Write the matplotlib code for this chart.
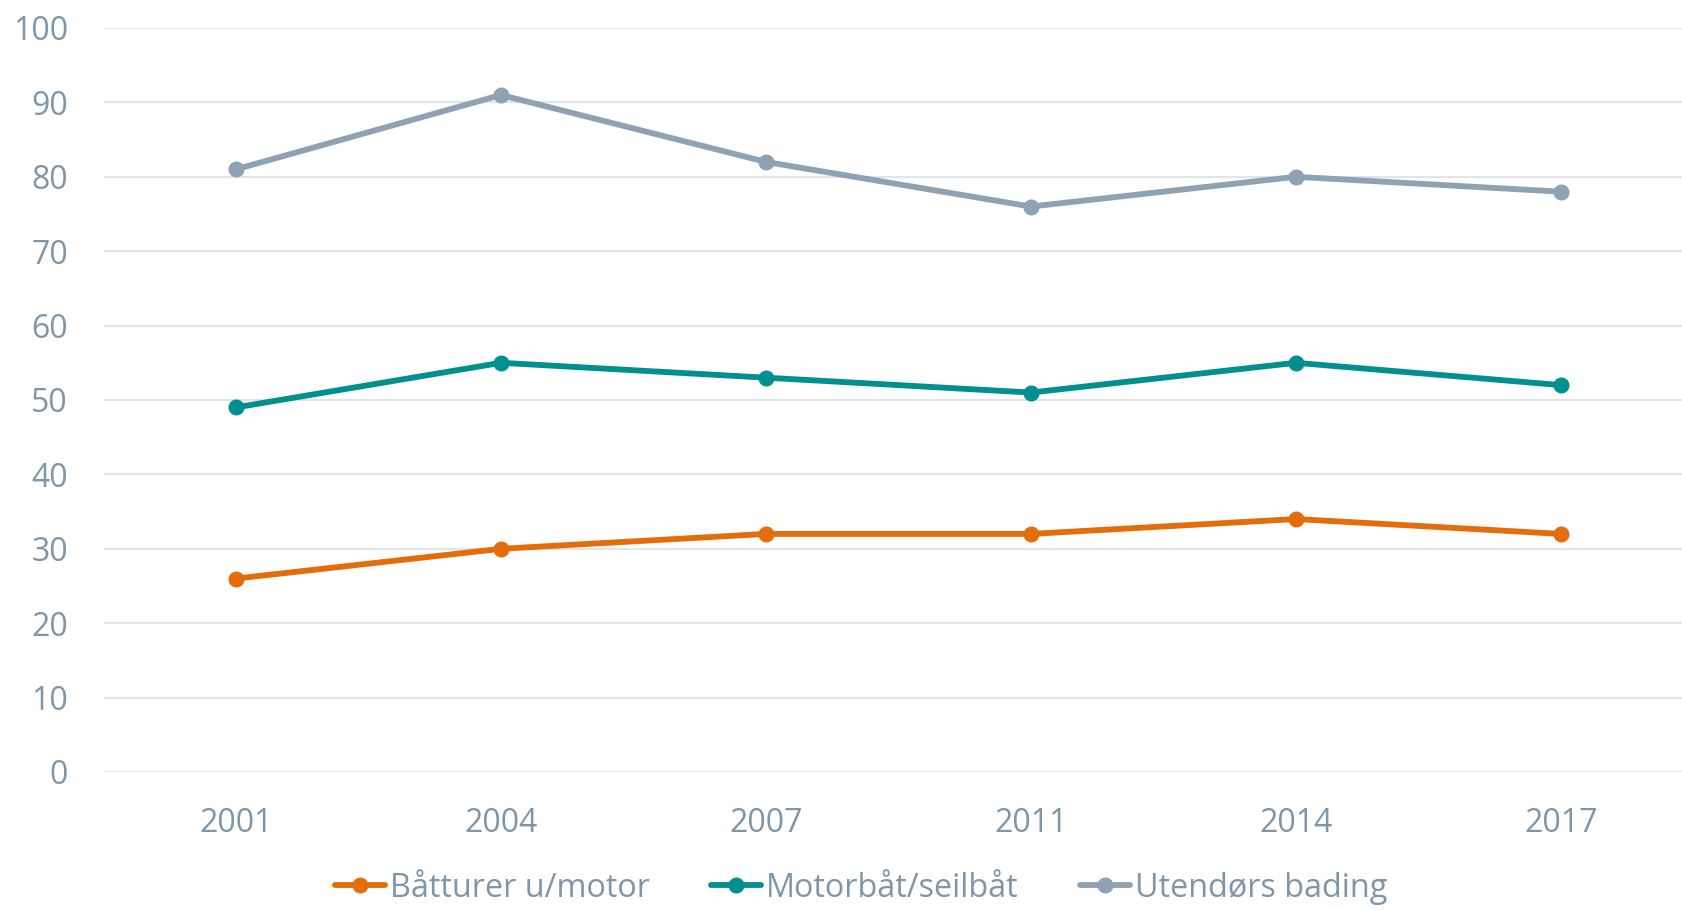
import matplotlib
matplotlib.use("Agg")
import matplotlib.pyplot as plt

years = ["2001", "2004", "2007", "2011", "2014", "2017"]
batturer = [26, 30, 32, 32, 34, 32]
motorbat = [49, 55, 53, 51, 55, 52]
bading = [81, 91, 82, 76, 80, 78]

series_names = ["Båtturer u/motor", "Motorbåt/seilbåt", "Utendørs bading"]
series_colors = ["#E46C0A", "#00908F", "#8EA2B3"]
text_color = "#7F96A8"

plt.rcParams['font.family'] = ['Open Sans', 'DejaVu Sans']

W, H = 1682, 910
fig = plt.figure(figsize=(W / 100, H / 100), dpi=100)
# axes box in pixels: left 104, right 1682, top 28, bottom 772
ax = fig.add_axes([104 / W, 1 - 772 / H, (1682 - 104) / W, (772 - 28) / H])

x = range(len(years))
for vals, name, col in zip([batturer, motorbat, bading], series_names, series_colors):
    ax.plot(x, vals, color=col, lw=4.2, marker="o", ms=10.5,
            label=name, solid_capstyle="round", zorder=3)

ax.set_ylim(0, 100)
ax.set_yticks(range(0, 101, 10))
ax.set_xlim(-0.498, 5.457)
ax.set_xticks(list(x))
ax.set_xticklabels(years)

ax.grid(axis="y", color="#E1E5E9", lw=1.6, zorder=0)
for s in ax.spines.values():
    s.set_visible(False)
ax.tick_params(axis="both", length=0, labelsize=23, labelcolor=text_color)
ax.tick_params(axis="y", pad=26)
ax.tick_params(axis="x", pad=25)

# legend row under the axis
leg = fig.legend(loc="center", bbox_to_anchor=(0.512, 0.024), ncol=3,
                 frameon=False, fontsize=23.3, handlelength=1.55,
                 handletextpad=0.15, columnspacing=1.9)
for t in leg.get_texts():
    t.set_color(text_color)

fig.savefig("out.png", dpi=100)
